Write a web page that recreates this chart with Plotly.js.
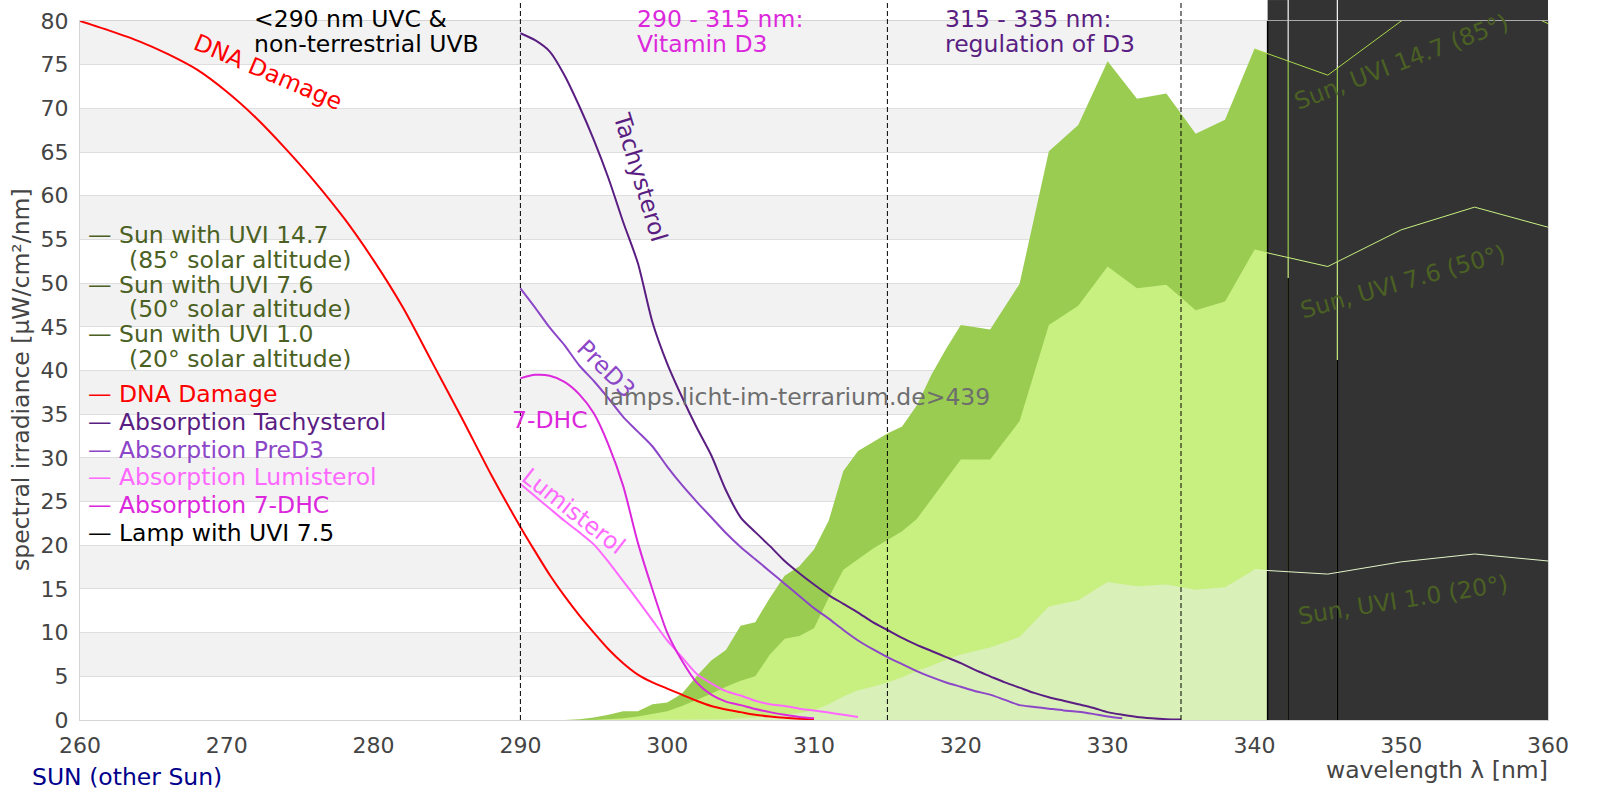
<!DOCTYPE html>
<html>
<head>
<meta charset="utf-8">
<script src="https://cdn.plot.ly/plotly-3.0.1.min.js"></script>
<style>
  html, body { margin: 0; padding: 0; background: #fff; }
  #chart { width: 1600px; height: 800px; }
</style>
</head>
<body>
<div id="chart"></div>
<script>
/* UV spectra: sun at three solar altitudes, a lamp, DNA damage and the
   vitamin-D absorption curves. */

// DNA damage action spectrum
const DNA_NM = [260, 262, 264, 266, 268, 270, 272, 274, 276, 278, 280, 282, 284, 286, 288, 290,
  291, 292, 293, 294, 295, 296, 297, 298, 299, 300, 301, 302, 303, 304, 305, 306, 307, 308, 309, 310];
const DNA_VAL = [80.0, 78.9, 77.7, 76.2, 74.4, 71.9, 68.9, 65.4, 61.6, 57.4, 52.6, 47.2, 40.9, 34.6, 28.1, 22.1,
  19.3, 16.6, 14.2, 12.0, 10.0, 8.1, 6.5, 5.2, 4.3, 3.6, 2.9, 2.2, 1.6, 1.2, 0.9, 0.6, 0.4, 0.25, 0.15, 0.08];

// absorption curves, 290..335 nm
const ABS_NM = [290, 291, 292, 293, 294, 295, 296, 297, 298, 299, 300, 301, 302, 303, 304, 305, 306, 307, 308, 309,
  310, 311, 312, 313, 314, 315, 316, 317, 318, 319, 320, 321, 322, 323, 324, 325, 326, 327, 328, 329,
  330, 331, 332, 333, 334, 335];
const TACHY = [78.6, 77.8, 76.5, 73.8, 70.3, 66.4, 62.0, 57.0, 52.3, 45.5,
  40.8, 37.0, 33.5, 30.3, 26.3, 23.2, 21.5, 19.9, 18.2, 16.8,
  15.5, 14.3, 13.3, 12.3, 11.2, 10.3, 9.4, 8.6, 7.9, 7.2,
  6.5, 5.7, 5.0, 4.3, 3.7, 3.1, 2.6, 2.2, 1.8, 1.4,
  0.9, 0.6, 0.35, 0.2, 0.1, 0.05];
const PRED3 = [49.4, 47.2, 44.9, 42.9, 40.6, 38.8, 36.8, 34.7, 33.0, 31.3,
  29.0, 26.9, 25.0, 23.2, 21.4, 19.8, 18.4, 17.0, 15.6, 14.2,
  12.8, 11.6, 10.3, 9.1, 8.1, 7.2, 6.4, 5.6, 4.9, 4.3,
  3.8, 3.3, 2.9, 2.3, 1.7, 1.5, 1.3, 1.1, 0.95, 0.7,
  0.4, 0.2, null, null, null, null];
const LUMI = [27.0, 25.6, 24.2, 22.8, 21.5, 20.1, 18.1, 15.9, 13.7, 11.4,
  9.1, 7.2, 5.3, 4.2, 3.3, 2.8, 2.2, 1.8, 1.6, 1.3,
  1.1, 0.85, 0.6, 0.35, null, null, null, null, null, null,
  null, null, null, null, null, null, null, null, null, null,
  null, null, null, null, null, null];
const DHC7 = [39.1, 39.5, 39.4, 38.7, 37.3, 35.1, 31.5, 26.8, 20.3, 14.9,
  10.0, 6.8, 4.3, 2.9, 2.1, 1.7, 1.25, 0.9, 0.6, 0.35,
  0.2, null, null, null, null, null, null, null, null, null,
  null, null, null, null, null, null, null, null, null, null,
  null, null, null, null, null, null];

// solar spectra
const SUN_NM = [293, 294, 295, 296, 297, 298, 299, 300, 301, 302, 303, 304, 305, 306, 307, 308, 309, 310,
  311, 312, 313, 314, 315, 316, 317, 318, 319, 320,
  322, 324, 326, 328, 330, 332, 334, 336, 338, 340,
  345, 350, 355, 360];
const SUN_85 = [0, 0.1, 0.3, 0.6, 1.0, 1.0, 1.8, 2.0, 3.0, 5.0, 6.8, 8.0, 10.8, 11.2, 14.0, 16.5, 17.6, 19.5,
  22.8, 28.5, 30.8, 31.8, 32.8, 33.6, 36.0, 39.5, 42.5, 45.2,
  44.7, 49.9, 65.1, 68.1, 75.4, 71.1, 71.7, 67.1, 68.7, 76.8,
  73.8, 80.0, 83.6, 79.7];
const SUN_50 = [0, 0, 0, 0.1, 0.2, 0.4, 0.7, 1.0, 1.6, 2.3, 3.0, 3.8, 4.5, 5.0, 7.5, 9.3, 9.6, 10.5,
  14.0, 17.2, 18.4, 19.6, 20.6, 21.6, 23.0, 25.3, 27.6, 29.8,
  29.8, 34.2, 45.2, 47.4, 51.9, 49.4, 49.8, 46.9, 47.9, 53.8,
  51.9, 56.1, 58.7, 56.4];
const SUN_20 = [0, 0, 0, 0, 0, 0, 0, 0, 0, 0, 0.05, 0.1, 0.2, 0.3, 0.4, 0.6, 0.8, 1.1,
  1.8, 2.7, 3.4, 3.8, 4.3, 4.9, 5.6, 6.2, 6.9, 7.5,
  8.3, 9.5, 13.0, 13.7, 15.8, 15.3, 15.5, 14.9, 15.2, 17.2,
  16.7, 18.1, 19.0, 18.2];

// lamp: off-scale band edges and the visible height of its line at each edge
const LAMP_EDGES = [340.9, 342.3, 345.65, 360];
const LAMP_EDGE_TOP = [90, 50.6, 41.2];
const LAMP_OFFSCALE = 90;

const REGION_EDGES = [290, 315, 335];
const X_TICKS = [260, 270, 280, 290, 300, 310, 320, 330, 340, 350, 360];

const FONT = 'DejaVu Sans, Verdana, sans-serif';
const OLIVE = '#4b6123', RED = '#ff0000', C_TACHY = '#5a1e82', C_PRED3 = '#8c46c8',
  C_LUMI = '#ff69ff', C_DHC = '#dc28dc';

// ---- traces ----
const sunFill = (y, color) => ({
  x: SUN_NM, y, type: 'scatter', mode: 'lines', fill: 'tozeroy',
  fillcolor: color, line: { width: 0, color }
});

const i340 = SUN_NM.indexOf(340);
const sunLine = (y, color) => ({
  x: SUN_NM.slice(i340), y: y.slice(i340), type: 'scatter', mode: 'lines',
  line: { width: 1, color }
});

// dark lamp fill, split in bands with hairline gaps like the reference
const GAP = 0.04;
const bandX = [], bandY = [];
for (let i = 0; i < LAMP_EDGES.length - 1; i++) {
  const a = LAMP_EDGES[i] + (i ? GAP : 0);
  const b = LAMP_EDGES[i + 1] - (i < LAMP_EDGES.length - 2 ? GAP : 0);
  bandX.push(a, a, b, b, a, null);
  bandY.push(0, LAMP_OFFSCALE, LAMP_OFFSCALE, 0, 0, null);
}
const lampX = [], lampY = [];
LAMP_EDGE_TOP.forEach((top, i) => {
  lampX.push(LAMP_EDGES[i], LAMP_EDGES[i], null);
  lampY.push(0, top, null);
});

const curve = (x, y, color) => ({
  x, y, type: 'scatter', mode: 'lines', connectgaps: false,
  line: { width: 2, color, shape: 'spline', smoothing: 0.7 }
});

const traces = [
  sunFill(SUN_85, '#99cc50'),
  sunFill(SUN_50, '#c8f080'),
  sunFill(SUN_20, '#d9f0b9'),
  { x: bandX, y: bandY, type: 'scatter', mode: 'lines', fill: 'toself',
    fillcolor: '#333333', line: { width: 0, color: '#333333' } },
  { x: lampX, y: lampY, type: 'scatter', mode: 'lines', line: { width: 1.5, color: '#000' } },
  sunLine(SUN_85, '#a8d848'),
  sunLine(SUN_50, '#c8f080'),
  sunLine(SUN_20, '#e2f5c6'),
  curve(DNA_NM, DNA_VAL, RED),
  curve(ABS_NM, TACHY, C_TACHY),
  curve(ABS_NM, PRED3, C_PRED3),
  curve(ABS_NM, LUMI, C_LUMI),
  curve(ABS_NM, DHC7, C_DHC)
];

// ---- shapes ----
const shapes = [];
for (let v = 5; v < 80; v += 10) {
  shapes.push({ type: 'rect', xref: 'paper', x0: 0, x1: 1, yref: 'y', y0: v, y1: v + 5,
    fillcolor: '#f2f2f2', line: { width: 0 }, layer: 'below' });
}
REGION_EDGES.forEach(nm => shapes.push({
  type: 'line', xref: 'x', x0: nm, x1: nm, yref: 'paper', y0: 0, y1: 1.03,
  line: { color: '#000', width: 1, dash: '5px,3px' }
}));
for (let i = 0; i < LAMP_EDGES.length - 1; i++) {
  const a = LAMP_EDGES[i] + (i ? GAP : 0);
  const b = LAMP_EDGES[i + 1] - (i < LAMP_EDGES.length - 2 ? GAP : 0);
  shapes.push({ type: 'rect', xref: 'x', x0: a, x1: b, yref: 'paper', y0: 1.001, y1: 1.03,
    fillcolor: '#333333', line: { width: 0 } });
}

// ---- annotations ----
const txt = (o) => Object.assign({ showarrow: false, font: { family: FONT, size: 23.5, color: o.color || '#000' } }, o);
const annotations = [];

const CURVE_LABELS = [
  { text: 'DNA Damage', x: 272.8, y: 74.2, angle: 23, color: RED },
  { text: 'Tachysterol', x: 298.15, y: 62.1, angle: 73, color: C_TACHY },
  { text: 'PreD3', x: 295.85, y: 40.2, angle: 45, color: C_PRED3 },
  { text: '7-DHC', x: 292.0, y: 34.3, angle: 0, color: C_DHC },
  { text: 'Lumisterol', x: 293.6, y: 23.9, angle: 38, color: C_LUMI },
  { text: 'Sun, UVI 14.7 (85°)', x: 350.0, y: 75.3, angle: -21, color: OLIVE },
  { text: 'Sun, UVI 7.6 (50°)', x: 350.1, y: 50.1, angle: -16, color: OLIVE },
  { text: 'Sun, UVI 1.0 (20°)', x: 350.1, y: 13.7, angle: -9, color: OLIVE }
];
CURVE_LABELS.forEach(l => annotations.push(txt({
  text: l.text, x: l.x, y: l.y, xref: 'x', yref: 'y', textangle: l.angle, color: l.color,
  xanchor: 'center', yanchor: 'middle'
})));

const REGION_LABELS = [
  { lines: ['<290 nm UVC &', 'non-terrestrial UVB'], x: 271.86, color: '#000' },
  { lines: ['290 - 315 nm:', 'Vitamin D3'], x: 297.97, color: C_DHC },
  { lines: ['315 - 335 nm:', 'regulation of D3'], x: 318.9, color: C_TACHY }
];
REGION_LABELS.forEach(r => r.lines.forEach((line, k) => annotations.push(txt({
  text: line.replace('<', '&lt;'), x: r.x, xref: 'x', xanchor: 'left', xshift: -2,
  y: 1, yref: 'paper', yanchor: 'middle', yshift: 21 - (19 + 25 * k), color: r.color
}))));

annotations.push(txt({
  text: 'lamps.licht-im-terrarium.de&gt;439', x: 308.8, y: 37.0, xref: 'x', yref: 'y',
  xanchor: 'center', yanchor: 'middle', color: '#6e6e6e'
}));

const LEGEND_TEXT = [
  '— Sun with UVI 14.7', '(85° solar altitude)',
  '— Sun with UVI 7.6', '(50° solar altitude)',
  '— Sun with UVI 1.0', '(20° solar altitude)',
  '— DNA Damage', '— Absorption Tachysterol', '— Absorption PreD3',
  '— Absorption Lumisterol', '— Absorption 7-DHC', '— Lamp with UVI 7.5'
];
const LEGEND_COLOR = [OLIVE, OLIVE, OLIVE, OLIVE, OLIVE, OLIVE, RED, C_TACHY, C_PRED3, C_LUMI, C_DHC, '#000'];
LEGEND_TEXT.forEach((t, i) => {
  const py = i < 6 ? 235 + i * 24.8 : 394 + (i - 6) * 27.8;
  annotations.push(txt({
    text: t, x: 0, xref: 'paper', xanchor: 'left', xshift: t.startsWith('(') ? 47 : 6,
    y: 1, yref: 'paper', yanchor: 'middle', yshift: 21 - py, color: LEGEND_COLOR[i]
  }));
});

annotations.push(txt({
  text: 'spectral irradiance [µW/cm²/nm]', textangle: -90, x: 0, xref: 'paper', xshift: -59,
  xanchor: 'center', yanchor: 'middle',
  y: (720 - 380) / 699, yref: 'paper', color: '#444'
}));
annotations.push(txt({
  text: 'wavelength λ [nm]', x: 1, xref: 'paper', xanchor: 'right', xshift: 2,
  y: 0, yref: 'paper', yanchor: 'middle', yshift: -50, color: '#444'
}));
annotations.push(txt({
  text: 'SUN (other Sun)', x: 0, xref: 'paper', xanchor: 'left', xshift: -50,
  y: 0, yref: 'paper', yanchor: 'middle', yshift: -57, color: '#00008b'
}));

const layout = {
  width: 1600, height: 800,
  margin: { l: 80, r: 52, t: 21, b: 80 },
  paper_bgcolor: '#fff', plot_bgcolor: '#fff',
  font: { family: FONT, size: 22, color: '#444' },
  showlegend: false,
  xaxis: {
    range: [260, 360], tickmode: 'array', tickvals: X_TICKS,
    showgrid: false, zeroline: false, showline: true, mirror: true,
    linecolor: '#d4d4d4', linewidth: 1, ticks: '', ticklabelstandoff: 6,
    tickfont: { family: FONT, size: 22, color: '#444' }
  },
  yaxis: {
    range: [0, 80], dtick: 5, tick0: 0,
    showgrid: true, gridcolor: '#dedede', gridwidth: 1,
    zeroline: false, showline: true, mirror: true,
    linecolor: '#d4d4d4', linewidth: 1, ticks: '', ticklabelstandoff: 6,
    tickfont: { family: FONT, size: 22, color: '#444' }
  },
  shapes, annotations
};

Plotly.newPlot('chart', traces, layout, { staticPlot: true, displayModeBar: false });
</script>
</body>
</html>
